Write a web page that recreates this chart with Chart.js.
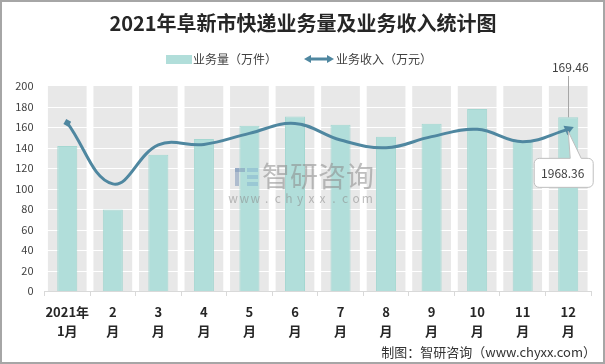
<!DOCTYPE html>
<html>
<head>
<meta charset="utf-8">
<script src="https://cdn.jsdelivr.net/npm/chart.js@4"></script>
<style>
  html, body { margin: 0; padding: 0; background: #fff; }
  #wrap { width: 605px; height: 364px; position: relative; }
</style>
</head>
<body>
<div id="wrap"><canvas id="myChart" width="605" height="364"></canvas></div>
<script>
// chart values
const months = [['2021年', '1月'], ['2', '月'], ['3', '月'], ['4', '月'], ['5', '月'], ['6', '月'],
  ['7', '月'], ['8', '月'], ['9', '月'], ['10', '月'], ['11', '月'], ['12', '月']];
const volume = [141.5, 79.5, 133, 148.3, 161.2, 170.2, 162.2, 150.5, 163.2, 177.5, 146, 169.46];
const revenue = [164, 104.5, 142.5, 143, 153.8, 163.5, 147.3, 139.8, 150.6, 157.7, 145.7, 157.7];
const bandValues = [200, 200, 200, 200, 200, 200, 200, 200, 200, 200, 200, 200];
const yTicks = [0, 20, 40, 60, 80, 100, 120, 140, 160, 180, 200];
const revenueLabel = '1968.36';

const FONT = "'Noto Sans CJK SC', 'Noto Sans', sans-serif";
const LINE_COLOR = '#4f87a0';
const BAR_COLOR = '#b1deda';
const BAR_BORDER = '#a4d7d1';
const BAND_COLOR = '#e8e8e8';

//white grid lines across the grey bands, under the teal bars
const bandGridPlugin = {
  id: 'bandGrid',
  beforeDatasetDraw(chart, args) {
    if (args.index !== 1) return;
    const { ctx, chartArea, scales } = chart;
    ctx.save();
    ctx.strokeStyle = '#ffffff';
    ctx.lineWidth = 1;
    yTicks.slice(1, -1).forEach(v => {
      const y = Math.round(scales.y.getPixelForValue(v)) + 0.5;
      ctx.beginPath();
      ctx.moveTo(chartArea.left, y);
      ctx.lineTo(chartArea.right, y);
      ctx.stroke();
    });
    ctx.restore();
  }
};

//title, legend, watermark, labels and frame
const decorPlugin = {
  id: 'decor',
  afterDatasetsDraw(chart) {
    const { ctx } = chart;
    ctx.save();
    // watermark
    ctx.globalAlpha = 0.55;
    ctx.fillStyle = '#7d98b8';
    ctx.fillRect(235, 168, 10, 4);
    ctx.fillRect(235, 168, 4, 18);
    ctx.fillStyle = '#86b6cf';
    ctx.fillRect(247, 168, 11, 4);
    ctx.fillRect(247, 175, 11, 4);
    ctx.fillRect(247, 182, 11, 4);
    ctx.fillStyle = '#8a8a8a';
    ctx.font = '28px ' + FONT;
    ctx.textBaseline = 'middle';
    ctx.textAlign = 'left';
    ctx.fillText('智研咨询', 262, 176);
    ctx.font = '12px ' + FONT;
    ctx.textAlign = 'center';
    'www.chyxx.com'.split('').forEach((c, i) => ctx.fillText(c, 233 + i * 11.2, 198));
    ctx.restore();

    // value label above last bar with leader line
    const barMeta = chart.getDatasetMeta(1);
    const lastBar = barMeta.data[barMeta.data.length - 1];
    ctx.save();
    ctx.strokeStyle = '#a6a6a6';
    ctx.lineWidth = 1;
    ctx.beginPath();
    ctx.moveTo(Math.round(lastBar.x) + 0.5, 76);
    ctx.lineTo(Math.round(lastBar.x) + 0.5, lastBar.y);
    ctx.stroke();
    ctx.fillStyle = '#404040';
    ctx.font = '12px ' + FONT;
    ctx.textAlign = 'center';
    ctx.textBaseline = 'middle';
    ctx.fillText(volume[volume.length - 1].toFixed(2), lastBar.x + 2, 67);

    // callout for the line end
    const lineMeta = chart.getDatasetMeta(0);
    const lp = lineMeta.data[lineMeta.data.length - 1];
    const bx = lp.x - 34, by = lp.y + 29, bw = 59, bh = 29, r = 5;
    ctx.beginPath();
    ctx.moveTo(bx + r, by);
    ctx.lineTo(lp.x + 2, by);
    ctx.lineTo(lp.x, lp.y + 2);
    ctx.lineTo(lp.x + 13, by);
    ctx.lineTo(bx + bw - r, by);
    ctx.arcTo(bx + bw, by, bx + bw, by + r, r);
    ctx.lineTo(bx + bw, by + bh - r);
    ctx.arcTo(bx + bw, by + bh, bx + bw - r, by + bh, r);
    ctx.lineTo(bx + r, by + bh);
    ctx.arcTo(bx, by + bh, bx, by + bh - r, r);
    ctx.lineTo(bx, by + r);
    ctx.arcTo(bx, by, bx + r, by, r);
    ctx.closePath();
    ctx.fillStyle = '#ffffff';
    ctx.fill();
    ctx.strokeStyle = '#bfbfbf';
    ctx.stroke();
    ctx.fillStyle = '#404040';
    ctx.fillText(revenueLabel, bx + bw / 2 - 1, by + bh / 2 + 1);
    ctx.restore();
  },
  afterDraw(chart) {
    const { ctx } = chart;
    ctx.save();
    // title
    ctx.fillStyle = '#262626';
    ctx.font = 'bold 20px ' + FONT;
    ctx.textAlign = 'center';
    ctx.textBaseline = 'middle';
    ctx.fillText('2021年阜新市快递业务量及业务收入统计图', 303, 23);

    // legend
    ctx.font = '12px ' + FONT;
    ctx.textAlign = 'left';
    ctx.fillStyle = BAR_COLOR;
    ctx.fillRect(166, 55, 26, 9);
    ctx.fillStyle = '#404040';
    ctx.fillText('业务量（万件）', 193, 59);
    ctx.strokeStyle = LINE_COLOR;
    ctx.fillStyle = LINE_COLOR;
    ctx.lineWidth = 3;
    ctx.beginPath();
    ctx.moveTo(309, 59);
    ctx.lineTo(329, 59);
    ctx.stroke();
    ctx.beginPath();
    ctx.moveTo(304, 59); ctx.lineTo(311, 55); ctx.lineTo(311, 63); ctx.closePath();
    ctx.moveTo(334, 59); ctx.lineTo(327, 55); ctx.lineTo(327, 63); ctx.closePath();
    ctx.fill();
    ctx.fillStyle = '#404040';
    ctx.fillText('业务收入（万元）', 336, 59);

    // source
    ctx.font = '13px ' + FONT;
    ctx.textAlign = 'right';
    ctx.fillStyle = '#333333';
    ctx.fillText('制图：智研咨询（www.chyxx.com）', 596, 352);

    // frame
    ctx.strokeStyle = '#a6a6a6';
    ctx.lineWidth = 2;
    ctx.strokeRect(1, 1, 603, 362);
    ctx.restore();
  }
};

const ctx = document.getElementById('myChart').getContext('2d');
const lastIdx = revenue.length - 1;

new Chart(ctx, {
  type: 'bar',
  data: {
    labels: months,
    datasets: [
      {
        type: 'line',
        label: '业务收入（万元）',
        data: revenue,
        borderColor: LINE_COLOR,
        backgroundColor: LINE_COLOR,
        borderWidth: 3,
        tension: 0.4,
        pointStyle: (c) => c.dataIndex === lastIdx ? 'triangle' : 'rect',
        pointRadius: (c) => c.dataIndex === 0 ? 4 : (c.dataIndex === lastIdx ? 6 : 0),
        pointRotation: (c) => c.dataIndex === 0 ? 30 : 68,
        pointBorderWidth: 0,
        order: 0
      },
      {
        label: '业务量（万件）',
        data: volume,
        backgroundColor: BAR_COLOR,
        borderColor: BAR_BORDER,
        borderWidth: 1,
        barPercentage: 0.44,
        categoryPercentage: 1,
        grouped: false,
        order: 1
      },
      {
        label: 'band',
        data: bandValues,
        backgroundColor: BAND_COLOR,
        borderWidth: 0,
        barPercentage: 0.85,
        categoryPercentage: 1,
        grouped: false,
        order: 2
      }
    ]
  },
  options: {
    responsive: false,
    animation: false,
    events: [],
    layout: { padding: { top: 86, right: 14, bottom: 0, left: 0 } },
    plugins: {
      legend: { display: false },
      title: { display: false },
      tooltip: { enabled: false }
    },
    scales: {
      x: {
        grid: { drawOnChartArea: false, drawTicks: true, tickLength: 5, color: '#d9d9d9' },
        border: { display: true, color: '#d9d9d9' },
        ticks: {
          font: { family: FONT, size: 13, weight: 'bold', lineHeight: 1.45 },
          color: '#262626',
          padding: 7,
          maxRotation: 0,
          autoSkip: false
        },
        afterFit(scale) { scale.height = 364 - 291; }
      },
      y: {
        min: 0,
        max: 200,
        afterBuildTicks(scale) { scale.ticks = yTicks.map(v => ({ value: v })); },
        grid: { display: false, drawTicks: false },
        border: { display: false },
        ticks: {
          font: { family: FONT, size: 11 },
          color: '#404040',
          padding: 11
        },
        afterFit(scale) { scale.width = 44.5; }
      }
    }
  },
  plugins: [bandGridPlugin, decorPlugin]
});
</script>
</body>
</html>
